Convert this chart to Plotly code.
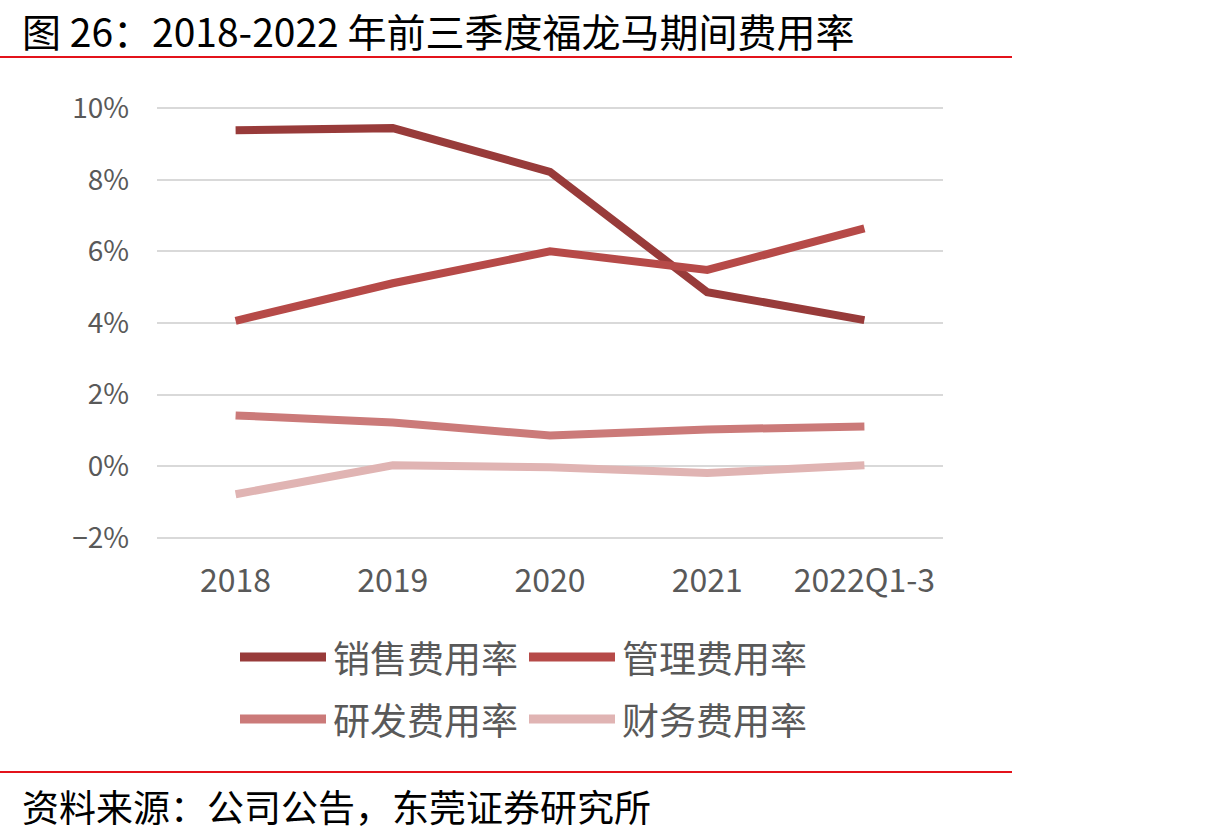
import plotly.graph_objects as go

categories = ["2018", "2019", "2020", "2021", "2022Q1-3"]
sales = [9.38, 9.44, 8.22, 4.86, 4.08]
admin = [4.06, 5.11, 6.0, 5.48, 6.64]
rnd = [1.42, 1.22, 0.86, 1.03, 1.11]
finance = [-0.78, 0.03, -0.03, -0.19, 0.03]
series_names = ["销售费用率", "管理费用率", "研发费用率", "财务费用率"]
colors = ["#983B3A", "#B64A48", "#CB7A79", "#E0B4B3"]
y_ticks = [-2, 0, 2, 4, 6, 8, 10]
y_tick_labels = ["−2%", "0%", "2%", "4%", "6%", "8%", "10%"]
title_text = "图 26：2018-2022 年前三季度福龙马期间费用率"
source_text = "资料来源：公司公告，东莞证券研究所"

W, H = 1227, 840
L, R, T, B = 157, 943, 107, 539
FONT = "Noto Sans CJK SC"

def px(x):
    return (x - L) / (R - L)

def py(y):
    return (B - y) / (B - T)

fig = go.Figure()
for name, vals, c in zip(series_names, [sales, admin, rnd, finance], colors):
    fig.add_trace(go.Scatter(x=categories, y=vals, mode="lines", name=name,
                             line=dict(color=c, width=8), showlegend=False))

shapes = []
annotations = []
# red rules
for yy in (57, 772):
    shapes.append(dict(type="line", xref="paper", yref="paper", x0=px(0), x1=px(1012),
                       y0=py(yy), y1=py(yy), line=dict(color="#E3131B", width=2)))
# title / source
annotations.append(dict(text=title_text, xref="paper", yref="paper", x=px(20), y=py(0),
                        xanchor="left", yanchor="top", showarrow=False,
                        font=dict(family=FONT, size=39, color="#000000")))
annotations.append(dict(text=source_text, xref="paper", yref="paper", x=px(20), y=py(806),
                        xanchor="left", yanchor="middle", showarrow=False,
                        font=dict(family=FONT, size=37, color="#000000")))
# custom legend
leg_pos = [(240, 657), (529, 657), (240, 719), (529, 719)]
for (lx, ly), name, c in zip(leg_pos, series_names, colors):
    shapes.append(dict(type="line", xref="paper", yref="paper", x0=px(lx), x1=px(lx + 86),
                       y0=py(ly), y1=py(ly), line=dict(color=c, width=9)))
    annotations.append(dict(text=name, xref="paper", yref="paper", x=px(lx + 91), y=py(ly),
                            xanchor="left", yanchor="middle", showarrow=False,
                            font=dict(family=FONT, size=37, color="#595959")))

fig.update_layout(
    width=W, height=H,
    margin=dict(l=L, r=W - R, t=T, b=H - B, pad=0),
    paper_bgcolor="white", plot_bgcolor="white",
    shapes=shapes, annotations=annotations,
    showlegend=False,
    xaxis=dict(type="category", range=[-0.5, 4.5], showgrid=False, showline=False,
               zeroline=False, ticks="", ticklabelstandoff=20,
               tickfont=dict(family=FONT, size=32, color="#595959")),
    yaxis=dict(range=[-2.03, 10.03], tickvals=y_ticks, ticktext=y_tick_labels,
               showgrid=True, gridcolor="#D9D9D9", gridwidth=2, zeroline=False,
               showline=False, ticks="", ticklabelstandoff=27,
               tickfont=dict(family=FONT, size=28, color="#595959")),
)

fig.write_html("out.html")
